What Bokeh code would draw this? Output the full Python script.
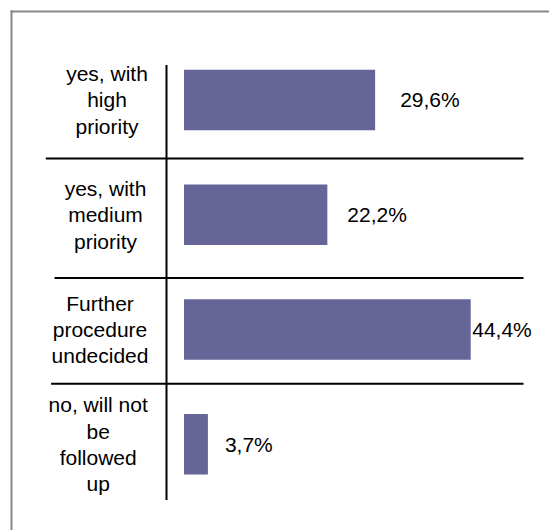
from bokeh.plotting import figure
from bokeh.models import Range1d, ColumnDataSource
from bokeh.core.properties import value
from bokeh.embed import file_html
from bokeh.resources import INLINE

# ---- data ----
categories = [
    "yes, with\nhigh\npriority",
    "yes, with\nmedium\npriority",
    "Further\nprocedure\nundecided",
    "no, will not\nbe\nfollowed\nup",
]
shares = [29.6, 22.2, 44.4, 3.7]
share_labels = ["29,6%", "22,2%", "44,4%", "3,7%"]

# ---- layout (pixel geometry of the canvas) ----
W, H = 549, 530
x0_px, xmax_px, xmax_val = 183.5, 470.2, 44.4      # where 0 and 44.4 fall
ppu_x = (xmax_px - x0_px) / xmax_val
y0_px, y3_px = 99.4, 443.8                          # row 0 and row 3 centres
ppu_y = (y3_px - y0_px) / 3.0

def xv(px):
    return (px - x0_px) / ppu_x

def yv(py):
    return (py - y0_px) / ppu_y

p = figure(width=W, height=H, output_backend="svg", toolbar_location=None,
           x_range=Range1d(xv(0), xv(W)), y_range=Range1d(yv(H), yv(0)),
           x_axis_location=None, y_axis_location=None, min_border=0)
p.grid.visible = False
p.outline_line_color = None
p.background_fill_color = "white"

idx = list(range(len(categories)))
src = ColumnDataSource(dict(
    y=idx, v=shares, lab=share_labels, cat=categories,
    dx=[25, 20, 1.5, 17], cdx=[5, 3.5, -2, -3.8],
))

# outer frame (only its top and left edges fall inside the picture)
p.segment(x0=[xv(10), xv(11)], x1=[xv(W + 5), xv(11)],
          y0=[yv(11), yv(10)], y1=[yv(11), yv(H + 5)],
          line_color="#888888", line_width=2)

# bars
p.hbar(y="y", left=0, right="v", height=60.5 / ppu_y, source=src,
       fill_color="#656597", line_color=None)

# vertical axis line
p.segment(x0=[xv(166)], x1=[xv(166)], y0=[yv(64.5)], y1=[yv(499.5)],
          line_color="black", line_width=2)

# row separators
sep_rows = [yv(158.1), yv(277.4), yv(383.2)]
sep_left = [xv(45.3), xv(54), xv(50.6)]
p.segment(x0=sep_left, x1=[xv(523)] * 3, y0=sep_rows, y1=sep_rows,
          line_color="black", line_width=2)

# category labels
p.text(x=xv(101.5), y="y", text="cat", source=src, x_offset="cdx",
       text_font=value("Liberation Sans"), text_font_size="21px",
       text_align="center", text_baseline="middle", text_line_height=1.15,
       text_color="black")

# value labels
p.text(x="v", y="y", text="lab", source=src, x_offset="dx",
       text_font=value("Liberation Sans"), text_font_size="21px",
       text_align="left", text_baseline="middle", text_color="black")

open("out.html", "w").write(file_html(p, INLINE))
